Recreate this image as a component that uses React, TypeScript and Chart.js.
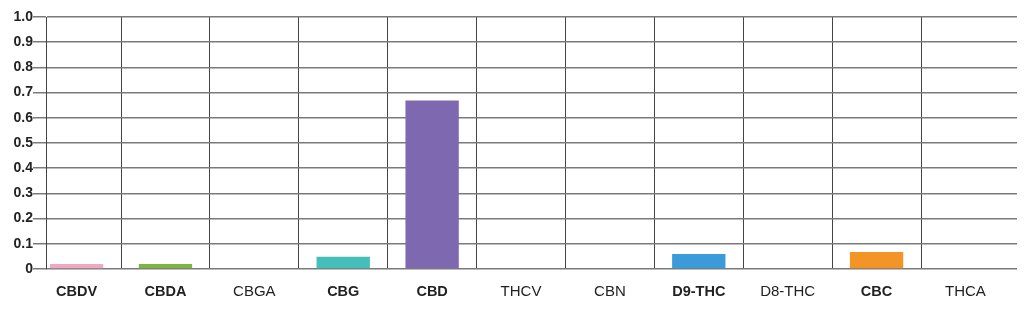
import React, { useEffect, useRef } from "react";
import { Chart, registerables } from "chart.js";

Chart.register(...registerables);

const categories = ["CBDV", "CBDA", "CBGA", "CBG", "CBD", "THCV", "CBN", "D9-THC", "D8-THC", "CBC", "THCA"];
const values = [0.02, 0.02, 0, 0.049, 0.669, 0, 0, 0.06, 0, 0.067, 0];
const boldLabels = [true, true, false, true, true, false, false, true, false, true, false];
const barColors = ["#efa8c2", "#7db443", "#cccccc", "#45bfb9", "#7e68b0", "#cccccc", "#cccccc", "#3a9bd8", "#cccccc", "#f39426", "#cccccc"];
const yTickValues = [0, 0.1, 0.2, 0.3, 0.4, 0.5, 0.6, 0.7, 0.8, 0.9, 1.0];
const yTickLabels = ["0", "0.1", "0.2", "0.3", "0.4", "0.5", "0.6", "0.7", "0.8", "0.9", "1.0"];

const FONT = "'Liberation Sans', Arial, sans-serif";

export default function App() {
  const ref = useRef<HTMLCanvasElement | null>(null);

  useEffect(() => {
    document.body.style.margin = "0";
    const canvas = ref.current;
    if (!canvas) return;
    const chart = new Chart(canvas, {
      type: "bar",
      data: {
        datasets: [
          {
            data: values.map((v, i) => ({ x: i, y: v })),
            backgroundColor: barColors,
            borderWidth: 0,
            barPercentage: 0.6,
            categoryPercentage: 1,
            xAxisID: "x",
            yAxisID: "y",
          },
        ],
      },
      options: {
        animation: false,
        responsive: false,
        devicePixelRatio: 1,
        layout: { padding: { top: 17, right: 7, left: 0, bottom: 0 } },
        plugins: { legend: { display: false }, tooltip: { enabled: false } },
        scales: {
          x: {
            type: "linear",
            position: "bottom",
            offset: false,
            min: -0.344,
            max: 10.58,
            afterBuildTicks: (s: any) => {
              s.ticks = categories.map((_, i) => ({ value: i }));
            },
            afterFit: (s: any) => {
              s.height = 40;
            },
            grid: { display: false, drawTicks: false, offset: false },
            border: { display: false },
            ticks: {
              autoSkip: false,
              maxRotation: 0,
              minRotation: 0,
              padding: 14,
              color: "#222",
              callback: (v: any) => categories[Math.round(Number(v))] ?? "",
              font: (ctx: any) => {
                const i = Math.round(Number(ctx.tick?.value ?? ctx.index));
                const b = boldLabels[i];
                return { family: FONT, size: b ? 14.5 : 15, weight: b ? "bold" : "normal" };
              },
            },
          },
          xg: {
            type: "linear",
            position: "top",
            offset: false,
            min: -0.344,
            max: 10.58,
            afterBuildTicks: (s: any) => {
              s.ticks = categories.slice(0, categories.length - 1).map((_, i) => ({ value: i + 0.5 }));
            },
            afterFit: (s: any) => {
              s.height = 0;
            },
            grid: { display: true, drawTicks: false, offset: false, color: "#444", lineWidth: 1 },
            border: { display: false },
            ticks: { display: false },
          },
          y: {
            type: "linear",
            min: 0,
            max: 1,
            afterBuildTicks: (s: any) => {
              s.ticks = yTickValues.map((v) => ({ value: v }));
            },
            afterFit: (s: any) => {
              s.width = 46;
            },
            grid: { color: "#7a7a7a", lineWidth: 1.5, tickLength: 13, drawTicks: true },
            border: { display: true, color: "#444", width: 1 },
            ticks: {
              padding: 0,
              color: "#222",
              font: { family: FONT, size: 14, weight: "bold" },
              callback: (_v: any, i: number) => yTickLabels[i],
            },
          },
        },
      },
    });
    return () => chart.destroy();
  }, []);

  return (
    <div style={{ width: 1024, height: 309 }}>
      <canvas ref={ref} width={1024} height={309} style={{ display: "block", width: 1024, height: 309 }} />
    </div>
  );
}
